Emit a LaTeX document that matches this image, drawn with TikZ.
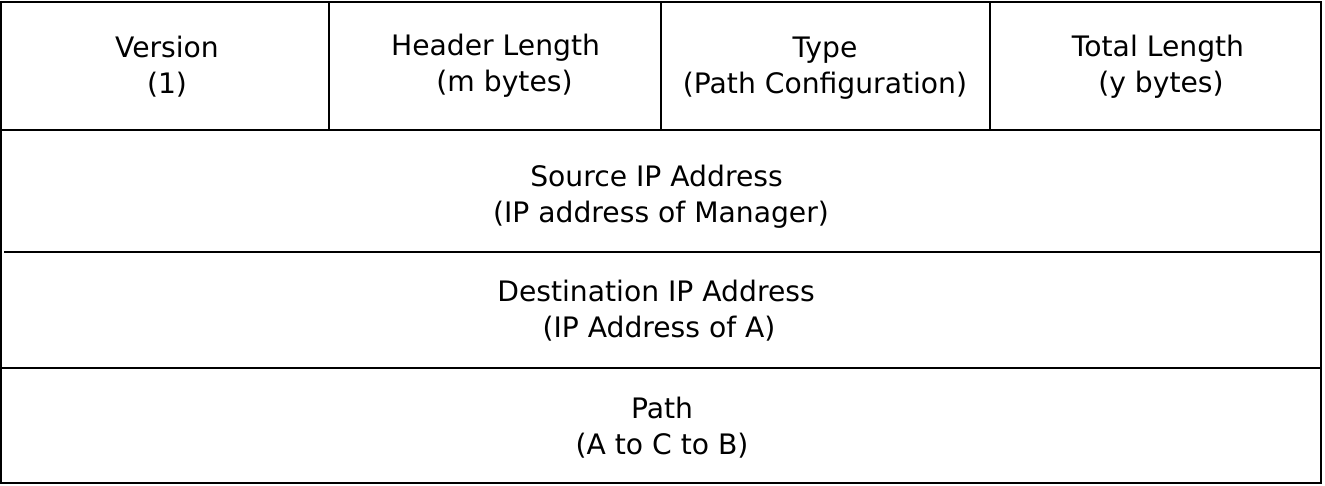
\documentclass[tikz,border=0pt]{standalone}
\usepackage{fontspec}
\setmainfont{DejaVu Sans}
\begin{document}
\begin{tikzpicture}[x=1pt,y=-1pt,
  cell/.style={align=center,font=\fontsize{28.2}{36}\selectfont,inner sep=0pt},
  rule/.style={line width=1.6pt,black}]
\useasboundingbox (0,0) rectangle (1325,486);
% frame and dividers
\draw[rule] (1,2) rectangle (1321,483);
\draw[rule] (1,130) -- (1321,130);
\draw[rule] (4,252) -- (1321,252);
\draw[rule] (1,368) -- (1321,368);
\draw[rule] (329,2) -- (329,130);
\draw[rule] (661,2) -- (661,130);
\draw[rule] (990,2) -- (990,130);
% texts
\node[cell] (ver) at (167,67) {Version\\(1)};
\node[cell] (hl) at (500,66) {Header Length\kern9pt\\\kern9pt(m bytes)};
\node[cell] (ty) at (825,68) {Type\\(Path Configuration)};
\node[cell] (tl) at (1158,67) {Total Length\\\kern6pt(y bytes)};
\node[cell] (src) at (661,197) {Source IP Address\kern9pt\\(IP address of Manager)};
\node[cell] (dst) at (659,311) {Destination IP Address\kern6pt\\(IP Address of A)};
\node[cell] (pth) at (662,428) {Path\\(A to C to B)};
\end{tikzpicture}
\end{document}
